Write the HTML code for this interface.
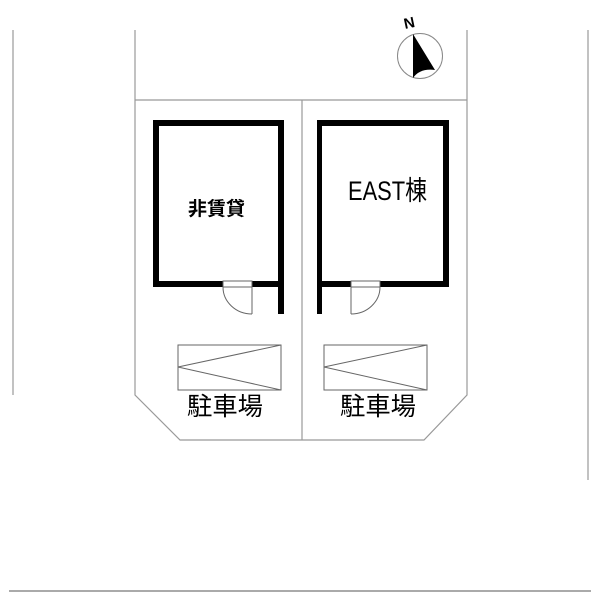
<!DOCTYPE html>
<html><head><meta charset="utf-8"><style>body{margin:0;background:#fff}svg{display:block}</style></head>
<body>
<svg width="600" height="600" viewBox="0 0 600 600" xmlns="http://www.w3.org/2000/svg">
<g stroke="#999" stroke-width="1.2" fill="none">
<line x1="13" y1="30" x2="13" y2="395"/>
<line x1="588" y1="30" x2="588" y2="480"/>
<line x1="9" y1="591" x2="591" y2="591" stroke="#aaa" stroke-width="2"/>
<polyline points="135,30 135,395 180,440 424,440 467,395 467,30"/>
<line x1="135" y1="100" x2="467" y2="100"/>
<line x1="302" y1="100" x2="302" y2="440"/>
</g>
<g fill="#000">
<rect x="153" y="120" width="131" height="6"/>
<rect x="153" y="120" width="6" height="167"/>
<rect x="153" y="281" width="70" height="6"/>
<rect x="252" y="281" width="32" height="6"/>
<rect x="278" y="120" width="6" height="194"/>
<rect x="317" y="120" width="132" height="6"/>
<rect x="443" y="120" width="6" height="167"/>
<rect x="317" y="120" width="5" height="194"/>
<rect x="317" y="281" width="34" height="6"/>
<rect x="380" y="281" width="69" height="6"/>
</g>
<g stroke="#666" stroke-width="1" fill="none">
<rect x="223" y="281" width="29" height="6"/>
<line x1="252" y1="287" x2="252" y2="314"/>
<path d="M223,287 A29,27 0 0 0 252,314"/>
<rect x="351" y="281" width="29" height="6"/>
<line x1="351" y1="287" x2="351" y2="314"/>
<path d="M380,287 A29,27 0 0 1 351,314"/>
<rect x="178" y="345" width="103" height="45"/>
<polyline points="281,345 178,367 281,390"/>
<rect x="324" y="345" width="103" height="45"/>
<polyline points="427,345 324,367 427,390"/>
</g>
<g font-family="Liberation Sans, Noto Sans CJK JP, sans-serif" fill="#000">
<text x="188" y="215" font-size="19" font-weight="bold" textLength="57" lengthAdjust="spacingAndGlyphs">非賃貸</text>
<text x="348" y="200" font-size="27" textLength="79" lengthAdjust="spacingAndGlyphs">EAST棟</text>
<text x="187" y="415" font-size="25" textLength="76" lengthAdjust="spacingAndGlyphs">駐車場</text>
<text x="340" y="415" font-size="25" textLength="76" lengthAdjust="spacingAndGlyphs">駐車場</text>
<text x="409" y="28" font-size="15" font-weight="bold" text-anchor="middle" transform="rotate(-12 409 22)">N</text>
</g>
<circle cx="420" cy="56" r="22.5" stroke="#888" stroke-width="1" fill="#fff"/>
<path d="M413,34 L435,70 Q420,68 413,78 Z" fill="#000"/>
</svg>
</body></html>
